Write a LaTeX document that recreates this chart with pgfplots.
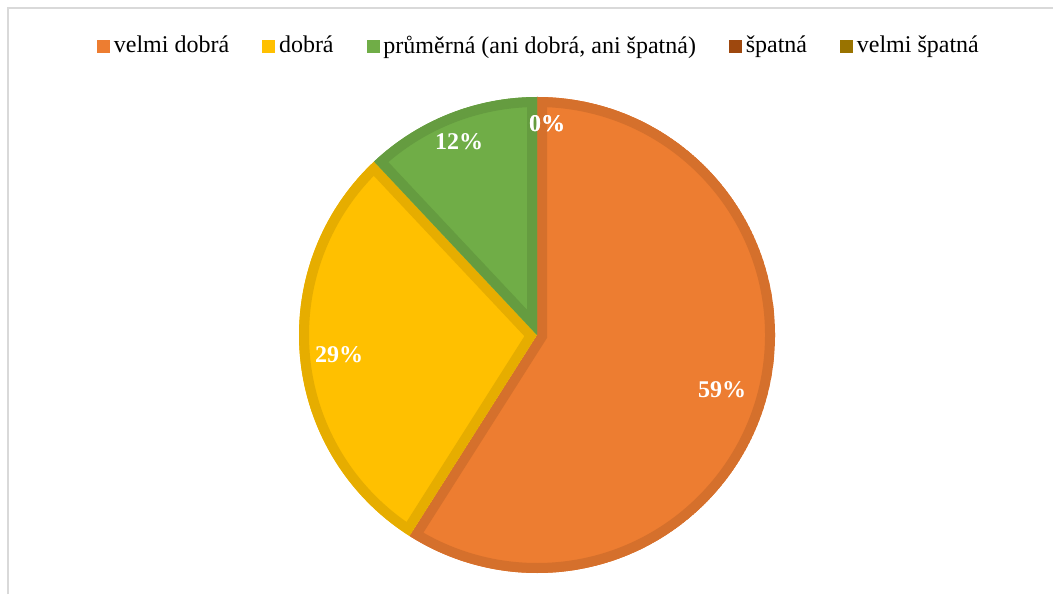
\documentclass[border=0pt]{standalone}
\usepackage{pgfplots}
\pgfplotsset{compat=1.18}
\usepackage{pgfplotstable}
\usepackage{fontspec}
\setmainfont{Liberation Serif}
\definecolor{cVD}{HTML}{ED7D31}
\definecolor{cVDe}{HTML}{D5702C}
\definecolor{cD}{HTML}{FFC000}
\definecolor{cDe}{HTML}{E6AD00}
\definecolor{cP}{HTML}{70AD47}
\definecolor{cPe}{HTML}{659C40}
\definecolor{cS}{HTML}{9E480E}
\definecolor{cSe}{HTML}{8E410D}
\definecolor{cVS}{HTML}{997300}
\definecolor{cVSe}{HTML}{8A6800}
\definecolor{cFrame}{HTML}{D9D9D9}

% share (%), fill, edge colour, label position (px, origin bottom left)
\pgfplotstableread{
value fill edge lx  ly
59    cVD  cVDe 722 204
29    cD   cDe  339 239
12    cP   cPe  459 452
0     cS   cSe  547 470
0     cVS  cVSe 547 470
}\pie

\def\R{119pt}

\begin{document}
\begin{tikzpicture}
\begin{axis}[
  at={(0,0)}, anchor=south west,
  scale only axis, width=526.5pt, height=297pt,
  xmin=0, xmax=1053, ymin=0, ymax=594,
  hide axis, clip=false,
  legend columns=5,
  legend style={draw=none, fill=none, at={(0.5128,0.9226)}, anchor=center,
    font=\fontsize{12}{14}\selectfont,
    /tikz/every even column/.append style={column sep=14.5pt}},
  legend image code/.code={\fill[#1] (0pt,-3pt) rectangle (6pt,3pt);},
]
\addlegendimage{cVD}\addlegendentry{velmi dobrá}
\addlegendimage{cD}\addlegendentry{dobrá}
\addlegendimage{cP}\addlegendentry{průměrná (ani dobrá, ani špatná)}
\addlegendimage{cS}\addlegendentry{špatná}
\addlegendimage{cVS}\addlegendentry{velmi špatná}

\pgfplotsextra{
  \xdef\angA{90}
  \foreach \i in {0,...,4}{
    \pgfplotstablegetelem{\i}{value}\of\pie \let\val\pgfplotsretval
    \pgfplotstablegetelem{\i}{fill}\of\pie \let\fc\pgfplotsretval
    \pgfplotstablegetelem{\i}{edge}\of\pie \let\ec\pgfplotsretval
    \pgfmathsetmacro\angB{\angA-3.6*\val}
    \ifdim\val pt>0pt
      \begin{scope}
        \path[clip] (axis cs:537,259) -- ++(\angA:\R)
          arc[start angle=\angA, end angle=\angB, radius=\R] -- cycle;
        \fill[\fc] (axis cs:537,259) -- ++(\angA:\R)
          arc[start angle=\angA, end angle=\angB, radius=\R] -- cycle;
        \draw[\ec, line width=10pt, line join=miter] (axis cs:537,259) -- ++(\angA:\R)
          arc[start angle=\angA, end angle=\angB, radius=\R] -- cycle;
      \end{scope}
    \fi
    \xdef\angA{\angB}
  }
  \foreach \i in {0,...,4}{
    \pgfplotstablegetelem{\i}{value}\of\pie \let\val\pgfplotsretval
    \pgfplotstablegetelem{\i}{lx}\of\pie \let\lx\pgfplotsretval
    \pgfplotstablegetelem{\i}{ly}\of\pie \let\ly\pgfplotsretval
    \node[text=white, font=\fontsize{12}{14}\selectfont\bfseries]
      at (axis cs:\lx,\ly) {\val\%};
  }
}
\end{axis}
\draw[cFrame, line width=1pt] (4pt,0pt) -- (4pt,293pt) -- (526.5pt,293pt);
\pgfresetboundingbox
\useasboundingbox (0,0) rectangle (526.5pt,297pt);
\end{tikzpicture}
\end{document}
